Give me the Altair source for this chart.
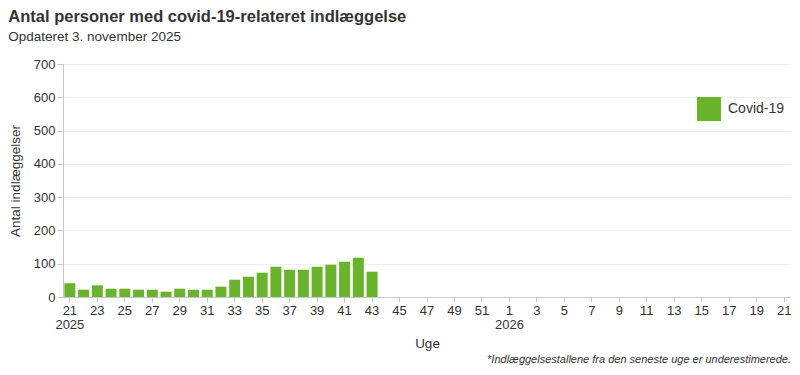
import altair as alt
import pandas as pd

# ---- data ----
weeks_2025 = list(range(21, 53))
weeks_2026 = list(range(1, 22))
values = [41, 22, 35, 25, 25, 22, 22, 16, 25, 22, 22, 31,
          52, 61, 73, 91, 82, 82, 91, 97, 106, 118, 76]
series_name = "Covid-19"
title_text = "Antal personer med covid-19-relateret indlæggelse"
subtitle_text = "Opdateret 3. november 2025"
footnote = "*Indlæggelsestallene fra den seneste uge er underestimerede."

keys = [f"2025-{w}" for w in weeks_2025] + [f"2026-{w}" for w in weeks_2026]
tick_keys = keys[::2]

df = pd.DataFrame({
    "uge": keys[:len(values)],
    "antal": values,
    "serie": [series_name] * len(values),
})

GREEN = "#6ab42d"
TEXT = "#333333"
FONT = "Liberation Sans"
W, H = 728, 233

label_expr = ("datum.value == '2025-21' ? ['21', '2025'] : "
              "datum.value == '2026-1' ? ['1', '2026'] : "
              "split(datum.value, '-')[1]")

bars = alt.Chart(df).mark_bar().encode(
    x=alt.X("uge:N",
            scale=alt.Scale(domain=keys, paddingInner=0.2, paddingOuter=0.1),
            axis=alt.Axis(title="Uge", values=tick_keys, labelExpr=label_expr,
                          labelAngle=0, labelFontSize=13, labelColor=TEXT,
                          labelFont=FONT, titleFont=FONT, titleFontSize=13.5,
                          titleFontWeight="normal", titleColor=TEXT,
                          domainColor="#c8c8c8", tickColor="#c8c8c8",
                          tickSize=5, labelPadding=2, titlePadding=5,
                          labelLineHeight=14, grid=False)),
    y=alt.Y("antal:Q",
            scale=alt.Scale(domain=[0, 700]),
            axis=alt.Axis(title="Antal indlæggelser", values=list(range(0, 701, 100)),
                          labelFontSize=13, labelColor=TEXT, labelFont=FONT,
                          titleFont=FONT, titleFontSize=13.5, titleFontWeight="normal",
                          titleColor=TEXT, titlePadding=11,
                          domainColor="#c8c8c8", tickColor="#c8c8c8", tickSize=6,
                          gridColor="#eeeeee", labelPadding=2)),
    color=alt.Color("serie:N",
                    scale=alt.Scale(domain=[series_name], range=[GREEN]),
                    legend=alt.Legend(title=None, orient="none", legendX=634, legendY=33,
                                      symbolType="square", symbolSize=576,
                                      symbolStrokeWidth=0, labelFontSize=14,
                                      labelFont=FONT, labelColor=TEXT, padding=0,
                                      labelOffset=7)),
)

foot = alt.Chart(pd.DataFrame({"t": [footnote]})).mark_text(
    align="right", baseline="top", fontStyle="italic", fontSize=11,
    font=FONT, color=TEXT
).encode(text="t:N", x=alt.value(W), y=alt.value(H + 57))

chart = alt.layer(bars, foot).properties(
    width=W, height=H,
    title=alt.TitleParams(text=title_text, subtitle=subtitle_text, anchor="start",
                          font=FONT, fontSize=16.5, fontWeight="bold", color=TEXT,
                          subtitleFont=FONT, subtitleFontSize=13.5, subtitleColor=TEXT,
                          subtitlePadding=4, offset=15),
).configure_view(stroke=None).configure(
    background="white",
    padding={"top": 1, "left": 0, "right": 0, "bottom": 0},
)

chart.save("out.html", embed_options={"renderer": "svg", "actions": False})
